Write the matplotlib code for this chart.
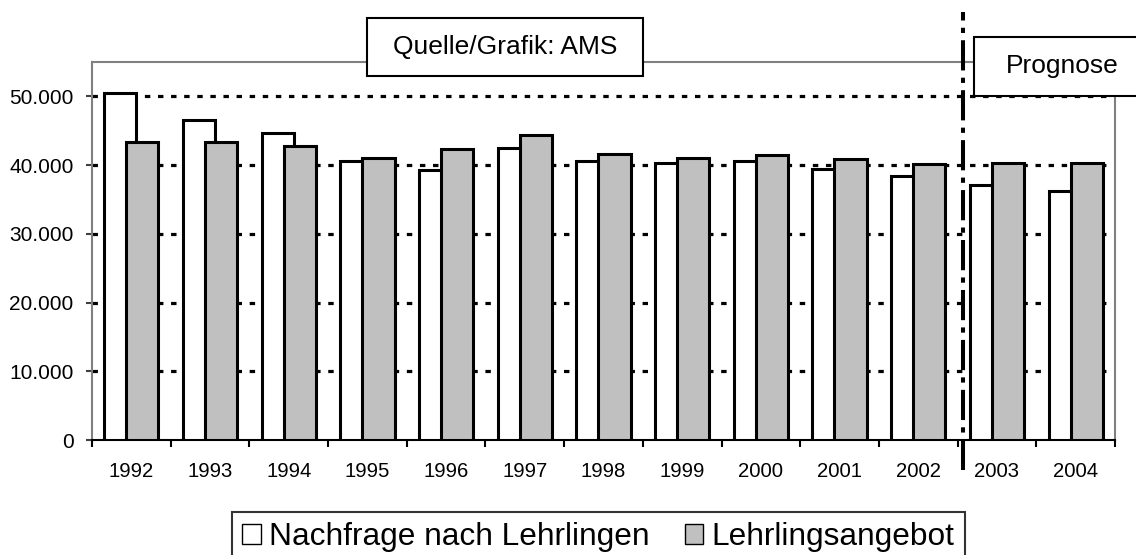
import matplotlib
matplotlib.use("Agg")
import matplotlib.pyplot as plt
from matplotlib.patches import Rectangle, Patch
from matplotlib.ticker import FuncFormatter, FixedLocator

plt.rcParams['font.family'] = ['Liberation Sans', 'DejaVu Sans']

years = ['1992', '1993', '1994', '1995', '1996', '1997', '1998',
         '1999', '2000', '2001', '2002', '2003', '2004']
nachfrage = [50550, 46500, 44600, 40550, 39300, 42450, 40600,
             40250, 40600, 39400, 38450, 37050, 36300]
angebot = [43350, 43400, 42800, 41000, 42300, 44350, 41550,
           41050, 41450, 40950, 40150, 40250, 40350]
labels = ['Nachfrage nach Lehrlingen', 'Lehrlingsangebot']
grey = '#c0c0c0'

W, H = 1136, 555
fig = plt.figure(figsize=(W / 100, H / 100), dpi=100)
ax = fig.add_axes([92 / W, 1 - 440 / H, (1115 - 92) / W, (440 - 62) / H])

x = list(range(len(years)))
bw = 0.41
ax.bar([i - 0.14 for i in x], nachfrage, width=bw, color='white',
       edgecolor='black', linewidth=2.2, zorder=3)
ax.bar([i + 0.14 for i in x], angebot, width=bw, color=grey,
       edgecolor='black', linewidth=2.2, zorder=4)

for v in range(10000, 50001, 10000):
    ax.axhline(v, color='black', linewidth=2.3, dashes=(1.7, 2.4), zorder=1)

ax.set_xlim(-0.5, len(years) - 0.5)
ax.set_ylim(0, 55000)
ax.set_yticks(range(0, 50001, 10000))
ax.yaxis.set_major_formatter(FuncFormatter(lambda v, p: f"{v:,.0f}".replace(",", ".")))
ax.set_xticks(x)
ax.set_xticklabels(years)
ax.xaxis.set_minor_locator(FixedLocator([i - 0.5 for i in range(len(years) + 1)]))
ax.tick_params(axis='x', which='major', length=0, pad=16, labelsize=14.6)
ax.tick_params(axis='x', which='minor', length=5, width=1.5, direction='out', color='black')
ax.tick_params(axis='y', length=4.3, width=1.5, pad=9, labelsize=15, color='#404040')

for side in ['left', 'top', 'right']:
    ax.spines[side].set_color('#808080')
    ax.spines[side].set_linewidth(1.5)
ax.spines['bottom'].set_color('black')
ax.spines['bottom'].set_linewidth(1.5)

# Prognose separator between 2002 and 2003
ax.axvline(10.57, ymin=(440 - 470) / 378, ymax=(440 - 12) / 378, color='black',
           linewidth=2.9, dashes=(7.5, 1.8, 1.3, 1.8), clip_on=False, zorder=6)

# annotation boxes
fig.add_artist(Rectangle((367 / W, 1 - 76 / H), 276 / W, 58 / H, transform=fig.transFigure,
                         facecolor='white', edgecolor='black', linewidth=1.5, zorder=5))
fig.text(505 / W, 1 - 47 / H, 'Quelle/Grafik: AMS', ha='center', va='center',
         fontsize=19, zorder=6)
fig.add_artist(Rectangle((974 / W, 1 - 96 / H), 200 / W, 59 / H, transform=fig.transFigure,
                         facecolor='white', edgecolor='black', linewidth=1.5, zorder=5))
fig.text(1062 / W, 1 - 66 / H, 'Prognose', ha='center', va='center', fontsize=19, zorder=6)

handles = [Patch(facecolor='white', edgecolor='black', linewidth=1),
           Patch(facecolor=grey, edgecolor='black', linewidth=1)]
leg = fig.legend(handles, labels, loc='upper left', bbox_to_anchor=(232 / W, 1 - 512 / H),
                 ncol=2, fontsize=22.8, frameon=True, fancybox=False, borderaxespad=0,
                 handlelength=0.57, handleheight=0.6, handletextpad=0.28,
                 columnspacing=1.1, borderpad=0.33)
leg.get_frame().set_edgecolor('black')
leg.get_frame().set_linewidth(1.5)

fig.savefig('out.png', dpi=100)
